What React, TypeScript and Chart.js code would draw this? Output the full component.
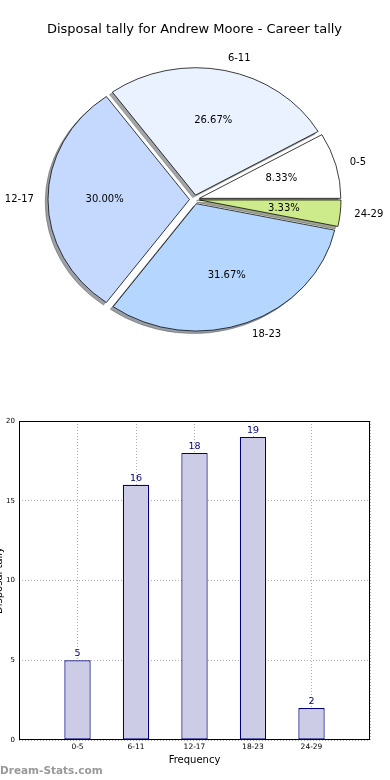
import React, { useEffect, useRef } from 'react';
import { Chart, registerables } from 'chart.js';

Chart.register(...registerables);

// ---- data ----
const categories = ['0-5', '6-11', '12-17', '18-23', '24-29'];
const counts = [5, 16, 18, 19, 2];
const sliceColors = ['#FFFFFF', '#EAF2FF', '#C5D9FF', '#B4D6FF', '#CDEB8B'];
const yTickStep = 5;
const yMin = 0;
const yMax = 20;
const titleText = 'Disposal tally for Andrew Moore - Career tally';
const xTitle = 'Frequency';
const yTitle = 'Disposal tally';
const watermark = 'Dream-Stats.com';

// ---- style ----
const FONT = "'DejaVu Sans', sans-serif";
const EXPLODE = 5;
const ELLIPSE = 0.9;
const SHADOW_DX = -2.8;
const SHADOW_DY = 2.8;

function shadowOf(hex: string): string {
  const n = parseInt(hex.slice(1), 16);
  const r = Math.round(((n >> 16) & 255) * 0.3);
  const g = Math.round(((n >> 8) & 255) * 0.3);
  const b = Math.round((n & 255) * 0.3);
  return `rgba(${r},${g},${b},0.5)`;
}

const piePlugin = {
  id: 'pieDraw',
  beforeDatasetsDraw(chart: any) {
    const ctx = chart.ctx;
    const meta = chart.getDatasetMeta(0);
    const arcs = meta.data;
    if (!arcs.length) return false;
    const cx = arcs[0].x;
    const cy = arcs[0].y;
    const r = arcs[0].outerRadius;
    const data: number[] = chart.data.datasets[0].data;
    const bgs: string[] = chart.data.datasets[0].backgroundColor;
    const total = data.reduce((a, b) => a + b, 0);
    ctx.save();
    ctx.translate(cx, cy);
    ctx.scale(1, ELLIPSE);
    ctx.translate(-cx, -cy);
    arcs.forEach((el: any, i: number) => {
      const mid = (el.startAngle + el.endAngle) / 2;
      ctx.save();
      ctx.translate(Math.cos(mid) * EXPLODE + SHADOW_DX, Math.sin(mid) * EXPLODE + SHADOW_DY);
      const o = el.options;
      const sc = shadowOf(bgs[i]);
      el.options = { ...o, backgroundColor: sc, borderColor: sc };
      el.draw(ctx);
      el.options = o;
      ctx.restore();
    });
    arcs.forEach((el: any) => {
      const mid = (el.startAngle + el.endAngle) / 2;
      ctx.save();
      ctx.translate(Math.cos(mid) * EXPLODE, Math.sin(mid) * EXPLODE);
      el.draw(ctx);
      ctx.restore();
    });
    ctx.restore();

    ctx.save();
    ctx.font = `10px ${FONT}`;
    ctx.fillStyle = '#000';
    ctx.textBaseline = 'middle';
    arcs.forEach((el: any, i: number) => {
      const mid = (el.startAngle + el.endAngle) / 2;
      const c = Math.cos(mid);
      const s = Math.sin(mid);
      const lr = EXPLODE + 1.1 * r;
      ctx.textAlign = c > 0 ? 'left' : 'right';
      ctx.fillText(chart.data.labels[i], cx + c * lr, cy + s * lr * ELLIPSE);
      const pr = EXPLODE + 0.6 * r;
      ctx.textAlign = 'center';
      ctx.fillText(((data[i] / total) * 100).toFixed(2) + '%', cx + c * pr, cy + s * pr * ELLIPSE);
    });
    ctx.restore();
    return false;
  },
};

const framePlugin = {
  id: 'frame',
  afterDraw(chart: any) {
    const { ctx, chartArea } = chart;
    ctx.save();
    ctx.strokeStyle = '#000';
    ctx.lineWidth = 1;
    const l = Math.round(chartArea.left) + 0.5;
    const t = Math.round(chartArea.top) + 0.5;
    const rr = Math.round(chartArea.right) - 0.5;
    const b = Math.round(chartArea.bottom) - 0.5;
    ctx.strokeRect(l, t, rr - l, b - t);
    ctx.restore();
  },
};

const barLabelPlugin = {
  id: 'barLabels',
  afterDatasetsDraw(chart: any) {
    const ctx = chart.ctx;
    const meta = chart.getDatasetMeta(0);
    const data = chart.data.datasets[0].data;
    ctx.save();
    ctx.font = `9.5px ${FONT}`;
    ctx.fillStyle = '#000080';
    ctx.textAlign = 'center';
    ctx.textBaseline = 'bottom';
    meta.data.forEach((el: any, i: number) => {
      if (data[i] == null) return;
      ctx.fillText(String(data[i]), el.x, el.y - 2);
    });
    ctx.restore();
  },
};

export default function App() {
  const pieRef = useRef<HTMLCanvasElement>(null);
  const barRef = useRef<HTMLCanvasElement>(null);

  useEffect(() => {
    document.body.style.margin = '0';
    const pieLabels = [...categories].reverse();
    const pieValues = [...counts].reverse();
    const pieBg = [...sliceColors].reverse();

    const pie = new Chart(pieRef.current as HTMLCanvasElement, {
      type: 'pie',
      data: {
        labels: pieLabels,
        datasets: [
          {
            data: pieValues,
            backgroundColor: pieBg,
            borderColor: '#000',
            borderWidth: 0.8,
          },
        ],
      },
      options: {
        animation: false,
        responsive: false,
        rotation: 90,
        radius: 141.5,
        layout: { padding: { left: 0, right: 1, top: 0, bottom: 38.8 } },
        plugins: {
          legend: { display: false },
          tooltip: { enabled: false },
          title: {
            display: true,
            text: titleText,
            color: '#000',
            font: { family: FONT, size: 13, weight: 'normal' },
            padding: { top: 22.2, bottom: 0 },
          },
        },
      } as any,
      plugins: [piePlugin],
    });

    const xLabels = ['', ...categories, ''];
    const barValues = [null, ...counts, null];

    const bar = new Chart(barRef.current as HTMLCanvasElement, {
      type: 'bar',
      data: {
        labels: xLabels,
        datasets: [
          {
            data: barValues,
            backgroundColor: '#CCCCE6',
            borderColor: '#000080',
            borderWidth: 1.2,
            borderSkipped: false,
            barPercentage: 0.45,
            categoryPercentage: 1,
          },
        ],
      },
      options: {
        animation: false,
        responsive: false,
        layout: { padding: { top: 21, right: 20, left: 0, bottom: 0 } },
        plugins: { legend: { display: false }, tooltip: { enabled: false } },
        scales: {
          x: {
            type: 'category',
            offset: false,
            z: 1,
            grid: { color: '#b0b0b0', lineWidth: 1, drawTicks: false, offset: false },
            border: { display: false, dash: [1, 2] },
            ticks: {
              color: '#000',
              font: { family: FONT, size: 7.5 },
              padding: 3,
              autoSkip: false,
              maxRotation: 0,
            },
            title: {
              display: true,
              text: xTitle,
              color: '#000',
              font: { family: FONT, size: 10 },
              padding: { top: 0, bottom: 14 },
            },
            afterFit: (s: any) => {
              s.height = 40;
            },
          },
          y: {
            min: yMin,
            max: yMax,
            z: 1,
            grid: { color: '#b0b0b0', lineWidth: 1, drawTicks: false },
            border: { display: false, dash: [1, 2] },
            ticks: {
              stepSize: yTickStep,
              color: '#000',
              font: { family: FONT, size: 7 },
              padding: 4,
            },
            title: {
              display: true,
              text: yTitle,
              color: '#000',
              font: { family: FONT, size: 10 },
              padding: { top: 4, bottom: 0 },
            },
            afterFit: (s: any) => {
              s.width = 30;
            },
          },
        },
      } as any,
      plugins: [framePlugin, barLabelPlugin],
    });

    return () => {
      pie.destroy();
      bar.destroy();
    };
  }, []);

  return (
    <div style={{ position: 'relative', width: 390, height: 780, overflow: 'hidden', background: '#fff' }}>
      <canvas
        ref={pieRef}
        width={390}
        height={400}
        style={{ position: 'absolute', left: 0, top: 0, width: 390, height: 400 }}
      />
      <canvas
        ref={barRef}
        width={401}
        height={380}
        style={{ position: 'absolute', left: -11, top: 400, width: 401, height: 380 }}
      />
      <div
        style={{
          position: 'absolute',
          left: 0,
          top: 763,
          fontFamily: FONT,
          fontWeight: 'bold',
          fontSize: 10.5,
          lineHeight: '14px',
          color: '#999',
          whiteSpace: 'nowrap',
        }}
      >
        {watermark}
      </div>
    </div>
  );
}
